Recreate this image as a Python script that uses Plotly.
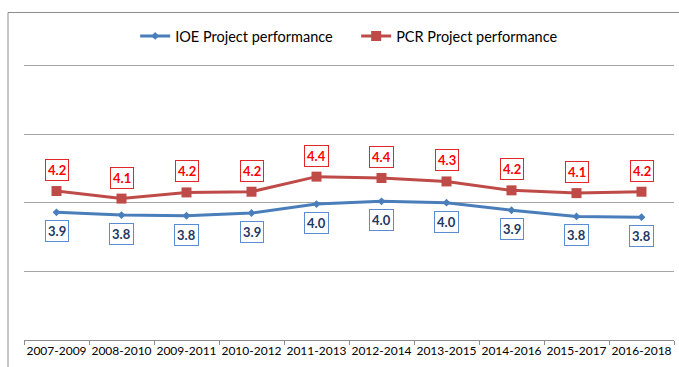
import plotly.graph_objects as go

periods = ["2007-2009", "2008-2010", "2009-2011", "2010-2012", "2011-2013",
           "2012-2014", "2013-2015", "2014-2016", "2015-2017", "2016-2018"]
ioe_perf = [3.86, 3.82, 3.81, 3.85, 3.98, 4.02, 4.00, 3.89, 3.80, 3.79]
pcr_perf = [4.17, 4.06, 4.15, 4.16, 4.38, 4.36, 4.31, 4.18, 4.14, 4.16]

IOE_COLOR = "#4A7EBB"
PCR_COLOR = "#BE4B48"
FONT = "Lato"

fig = go.Figure()
fig.add_trace(go.Scatter(
    x=periods, y=ioe_perf, name="IOE Project performance", mode="lines+markers",
    line=dict(color=IOE_COLOR, width=3),
    marker=dict(symbol="diamond", size=6, color=IOE_COLOR),
))
fig.add_trace(go.Scatter(
    x=periods, y=pcr_perf, name="PCR Project performance", mode="lines+markers",
    line=dict(color=PCR_COLOR, width=3),
    marker=dict(symbol="square", size=10, color=PCR_COLOR),
))

annotations = []
for p, v in zip(periods, pcr_perf):
    annotations.append(dict(
        x=p, y=v, xref="x", yref="y", text=f"<b>{v:.1f}</b>", showarrow=False,
        yshift=21, font=dict(family=FONT, size=13, color="#FF0000"),
        bgcolor="white", bordercolor="#E0282A", borderwidth=1, borderpad=2,
    ))
for p, v in zip(periods, ioe_perf):
    annotations.append(dict(
        x=p, y=v, xref="x", yref="y", text=f"<b>{v:.1f}</b>", showarrow=False,
        yshift=-19, font=dict(family=FONT, size=13, color="#1F3864"),
        bgcolor="white", bordercolor="#5B8BD0", borderwidth=1, borderpad=2,
    ))

fig.update_layout(
    width=679, height=367,
    margin=dict(l=24, r=5, t=62, b=27, autoexpand=False),
    paper_bgcolor="white", plot_bgcolor="white",
    font=dict(family=FONT, color="#000000"),
    showlegend=True,
    legend=dict(orientation="h", x=0.511, xanchor="center", y=1.0935, yanchor="middle",
                font=dict(family=FONT, size=14.5, color="#000000"),
                itemwidth=30, entrywidth=176, entrywidthmode="pixels", tracegroupgap=0),
    annotations=annotations,
    shapes=[dict(type="rect", xref="paper", yref="paper",
                 x0=-0.0246, x1=1.2, y0=-0.3, y1=1.178,
                 line=dict(color="#8C8C8C", width=1), layer="below")],
    xaxis=dict(type="category", tickson="boundaries", ticks="outside", ticklen=4,
               tickcolor="#8C8C8C", showline=True, linecolor="#8C8C8C", linewidth=1,
               showgrid=False, tickangle=0, automargin=False,
               tickfont=dict(family=FONT, size=12, color="#000000"),
               range=[-0.5, 9.5], fixedrange=True),
    yaxis=dict(range=[2, 6.05], dtick=1, tick0=2, showticklabels=False, showgrid=True,
               gridcolor="#A6A6A6", gridwidth=1, zeroline=False, showline=False,
               automargin=False, fixedrange=True),
)

fig.write_html("out.html")
